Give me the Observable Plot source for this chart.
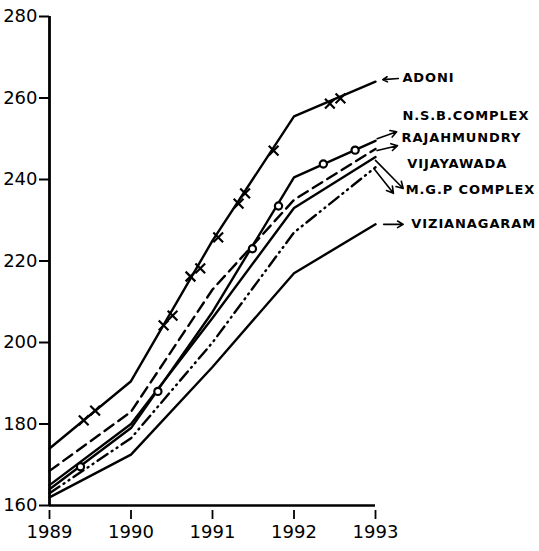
<!DOCTYPE html>
<html>
<head>
<meta charset="utf-8">
<script src="https://cdn.jsdelivr.net/npm/d3@7"></script>
<script src="https://cdn.jsdelivr.net/npm/@observablehq/plot@0.6"></script>
<style>
  html, body { margin: 0; padding: 0; background: #fff; }
  #chart svg { display: block; }
  #chart .series-label text { letter-spacing: 0.9px; }
</style>
</head>
<body>
<div id="chart"></div>
<script>
const years = [1989, 1990, 1991, 1992, 1993];
const yTicks = [160, 180, 200, 220, 240, 260, 280];
const seriesNames = ["ADONI", "N.S.B.COMPLEX", "RAJAHMUNDRY", "VIJAYAWADA", "M.G.P COMPLEX", "VIZIANAGARAM"];
const adoni = [174, 190.5, 225, 255.5, 264];
const nsbComplex = [164, 179, 207.5, 240.5, 249.5];
const rajahmundry = [168.5, 183, 213, 235, 247.5];
const vijayawada = [165, 180, 206, 233, 245.5];
const mgpComplex = [163, 176.5, 200, 227, 243];
const vizianagaram = [162, 172.5, 194, 217, 229];

// marker positions
const adoniMarkYears = [1989.42, 1989.56, 1990.40, 1990.51, 1990.73, 1990.85, 1991.07, 1991.32, 1991.40, 1991.75, 1992.44, 1992.57];
const adoniMarkValues = [180.9, 183.3, 204.2, 206.6, 216.2, 218.2, 225.8, 234.1, 236.6, 247.1, 258.6, 259.9];
const nsbMarkYears = [1989.38, 1990.33, 1991.49, 1991.81, 1992.36, 1992.75];
const nsbMarkValues = [169.5, 188, 223, 233.5, 243.8, 247.2];

// label anchor values (y scale) for the right-hand annotations
const labelValues = [265, 255.7, 250.3, 243.9, 237.5, 229];
const labelYears = [1993.33, 1993.33, 1993.32, 1993.39, 1993.37, 1993.44];
const arrowFromYears = [1993.28, 1993.02, 1993.02, 1993.0, 1992.98, 1993.1];
const arrowFromValues = [264.8, 250, 247.1, 244.7, 242.7, 229];
const arrowToYears = [1993.09, 1993.26, 1993.27, 1993.34, 1993.22, 1993.34];
const arrowToValues = [264.5, 251.7, 248.3, 237.8, 236.6, 229];

const allSeries = [adoni, nsbComplex, rajahmundry, vijayawada, mgpComplex, vizianagaram];
const dashes = [null, null, "11,6", null, "12,5,1,5,1,5", null];

const lineMarks = allSeries.map((vals, i) => {
  const data = years.map((yr, j) => ({year: yr, value: vals[j]}));
  return Plot.line(data, {
    x: "year", y: "value", stroke: "#000", strokeWidth: 2.4,
    strokeDasharray: dashes[i] || undefined,
    strokeLinecap: "round", strokeLinejoin: "round"
  });
});

const adoniMarks = adoniMarkYears.map((yr, i) => ({year: yr, value: adoniMarkValues[i]}));
const nsbMarks = nsbMarkYears.map((yr, i) => ({year: yr, value: nsbMarkValues[i]}));
const labels = seriesNames.map((n, i) => ({name: n, year: labelYears[i], value: labelValues[i]}));
const arrows = seriesNames.map((n, i) => ({x1: arrowFromYears[i], y1: arrowFromValues[i], x2: arrowToYears[i], y2: arrowToValues[i]}));

const chart = Plot.plot({
  width: 539,
  height: 551,
  marginLeft: 49,
  marginRight: 164,
  marginTop: 16,
  marginBottom: 46,
  style: {fontFamily: "DejaVu Sans", background: "#fff", color: "#000"},
  x: {domain: [1989, 1993]},
  y: {domain: [160, 280]},
  marks: [
    Plot.axisY({ticks: yTicks, tickSize: 10, tickPadding: 2, tickFormat: d => String(d), fontSize: 18, strokeWidth: 2}),
    Plot.axisX({ticks: years, tickSize: 9, tickPadding: 6, dy: 5, tickFormat: d => String(d), fontSize: 18, strokeWidth: 1.8}),
    Plot.ruleX([1989], {y1: 160, y2: 280, stroke: "#000", strokeWidth: 2.8}),
    Plot.ruleY([160], {x1: 1989, x2: 1993, stroke: "#000", strokeWidth: 2.6}),
    ...lineMarks,
    Plot.dot(adoniMarks, {x: "year", y: "value", symbol: "times", r: 4.5, stroke: "#000", strokeWidth: 2.2}),
    Plot.dot(nsbMarks, {x: "year", y: "value", symbol: "circle", r: 3.6, fill: "#fff", stroke: "#000", strokeWidth: 2.2}),
    Plot.arrow(arrows, {x1: "x1", y1: "y1", x2: "x2", y2: "y2", stroke: "#000", strokeWidth: 1.6, headLength: 7, bend: 0}),
    Plot.text(labels, {x: "year", y: "value", text: "name", textAnchor: "start", fontSize: 13, fill: "#000",
      fontFamily: "DejaVu Sans", fontWeight: "bold", className: "series-label"})
  ]
});

document.getElementById("chart").appendChild(chart);
</script>
</body>
</html>
